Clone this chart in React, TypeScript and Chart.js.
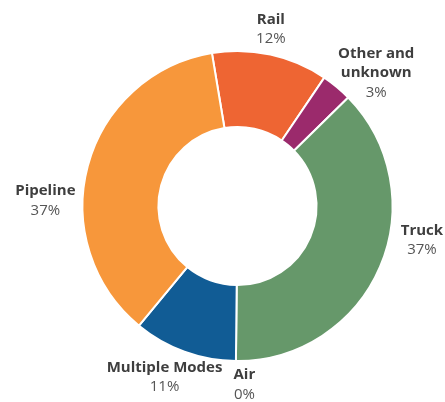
import React, { useEffect, useRef } from "react";
import { Chart, registerables } from "chart.js";

Chart.register(...registerables);

const categories = ["Rail", "Other and unknown", "Truck", "Air", "Multiple Modes", "Pipeline"];
const shares = [12.1, 3.2, 37.5, 0, 10.8, 36.4];
const percentLabels = ["12%", "3%", "37%", "0%", "11%", "37%"];
const nameLines = [["Rail"], ["Other and", "unknown"], ["Truck"], ["Air"], ["Multiple Modes"], ["Pipeline"]];
const sliceColors = ["#EE6533", "#9B2A6C", "#66986A", "#6A9AC8", "#115C95", "#F7973B"];

// label placement (compass degrees from the doughnut centre, distance as a multiple of the outer radius)
const labelAngle = [10.7, 46.2, 100.5, 177.8, 203.1, 271.6];
const labelDist = [1.16, 1.24, 1.21, 1.155, 1.2, 1.24];

const outsideLabels = {
  id: "outsideLabels",
  afterDraw(chart: any) {
    const ctx = chart.ctx;
    const meta = chart.getDatasetMeta(0);
    ctx.save();
    ctx.textAlign = "center";
    ctx.textBaseline = "middle";
    const lh = 19.5;
    meta.data.forEach((arc: any, i: number) => {
      const { x, y, outerRadius } = arc.getProps(["x", "y", "outerRadius"], true);
      const a = (labelAngle[i] * Math.PI) / 180;
      const d = outerRadius * labelDist[i];
      const cx = x + Math.sin(a) * d;
      const cy = y - Math.cos(a) * d;
      const lines = [...nameLines[i], percentLabels[i]];
      const startY = cy - ((lines.length - 1) * lh) / 2;
      lines.forEach((t, j) => {
        const isName = j < lines.length - 1;
        ctx.font = (isName ? "bold " : "") + "15px 'Open Sans', sans-serif";
        ctx.fillStyle = isName ? "#3e3e3e" : "#555555";
        ctx.fillText(t, cx, startY + j * lh);
      });
    });
    ctx.restore();
  },
};

export default function App() {
  const ref = useRef<HTMLCanvasElement | null>(null);
  useEffect(() => {
    document.body.style.margin = "0";
    const chart = new Chart(ref.current as HTMLCanvasElement, {
      type: "doughnut",
      data: {
        labels: categories,
        datasets: [
          {
            data: shares,
            backgroundColor: sliceColors,
            borderColor: "#ffffff",
            borderWidth: 2,
          },
        ],
      },
      options: {
        responsive: false,
        animation: false,
        rotation: -9.5,
        cutout: "51%",
        layout: { padding: { top: 50, bottom: 40, left: 81.5, right: 51.5 } },
        plugins: { legend: { display: false }, tooltip: { enabled: false } },
      },
      plugins: [outsideLabels],
    });
    return () => chart.destroy();
  }, []);
  return (
    <div style={{ position: "absolute", left: 0, top: 0, width: 445, height: 402, background: "#fff" }}>
      <canvas ref={ref} width={445} height={402} />
    </div>
  );
}
